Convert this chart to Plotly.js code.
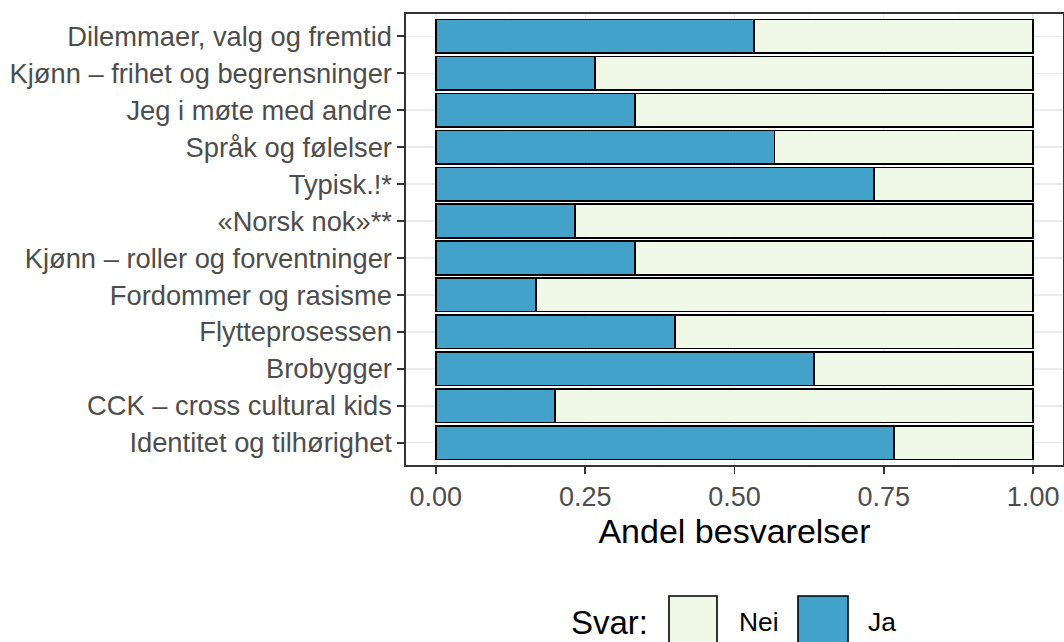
<!DOCTYPE html>
<html>
<head>
<meta charset="utf-8">
<script src="https://cdn.plot.ly/plotly-3.0.1.min.js"></script>
<style>html,body{margin:0;padding:0;background:#fff}#chart{width:1064px;height:642px}</style>
</head>
<body>
<div id="chart"></div>
<script>
// Categories, top to bottom
const categories = [
  "Dilemmaer, valg og fremtid",
  "Kjønn – frihet og begrensninger",
  "Jeg i møte med andre",
  "Språk og følelser",
  "Typisk.!*",
  "«Norsk nok»**",
  "Kjønn – roller og forventninger",
  "Fordommer og rasisme",
  "Flytteprosessen",
  "Brobygger",
  "CCK – cross cultural kids",
  "Identitet og tilhørighet"
];
// Share answering "Ja"
const jaValues = [0.533, 0.267, 0.333, 0.567, 0.733, 0.233, 0.333, 0.167, 0.400, 0.633, 0.200, 0.767];
// Share answering "Nei"
const neiValues = [0.467, 0.733, 0.667, 0.433, 0.267, 0.767, 0.667, 0.833, 0.600, 0.367, 0.800, 0.233];
const xTickVals = [0, 0.25, 0.5, 0.75, 1];
const xTickText = ["0.00", "0.25", "0.50", "0.75", "1.00"];
const legendTitle = "Svar:";
const seriesNames = {ja: "Ja", nei: "Nei"};

const colJa = "#43A2CA", colNei = "#F0F9E8";
const outline = {color: "#000000", width: 1.8};
const font = "Liberation Sans, Arial, Helvetica, sans-serif";

const traces = [
  {type: "bar", orientation: "h", name: seriesNames.ja, y: categories, x: jaValues,
   marker: {color: colJa, line: outline}, showlegend: false, hoverinfo: "x+y+name"},
  {type: "bar", orientation: "h", name: seriesNames.nei, y: categories, x: neiValues,
   marker: {color: colNei, line: outline}, showlegend: false, hoverinfo: "x+y+name"}
];

// legend drawn in paper space
const L = 406, R = 1063, T = 14, B = 465;
const px = v => (v - L) / (R - L);
const py = v => (B - v) / (B - T);

const layout = {
  width: 1064, height: 642,
  margin: {l: L, r: 1064 - R, t: T, b: 642 - B, pad: 0},
  paper_bgcolor: "#ffffff", plot_bgcolor: "#ffffff",
  barmode: "stack", bargap: 0.1,
  font: {family: font, color: "#4D4D4D", size: 27.3},
  showlegend: false,
  xaxis: {
    range: [-0.05, 1.05], tickvals: xTickVals, ticktext: xTickText,
    ticks: "outside", ticklen: 7, tickwidth: 1.5, tickcolor: "#333333",
    tickfont: {size: 27, color: "#4D4D4D", family: font},
    showgrid: true, gridcolor: "#EBEBEB", gridwidth: 1.3,
    minor: {dtick: 0.125, tick0: 0, showgrid: true, gridcolor: "#F4F4F4", gridwidth: 0.7, ticks: ""},
    zeroline: false, showline: true, linecolor: "#333333", linewidth: 1.6, mirror: true,
    title: {text: "Andel besvarelser", font: {size: 34, color: "#000000", family: font}, standoff: 8}
  },
  yaxis: {
    type: "category", categoryorder: "array", categoryarray: categories,
    range: [11.6, -0.6],
    ticks: "outside", ticklen: 7, tickwidth: 1.5, tickcolor: "#333333",
    tickfont: {size: 27.3, color: "#4D4D4D", family: font},
    showgrid: true, gridcolor: "#EBEBEB", gridwidth: 1.3,
    zeroline: false, showline: true, linecolor: "#333333", linewidth: 1.6, mirror: true
  },
  shapes: [
    {type: "rect", xref: "paper", yref: "paper", x0: px(669), x1: px(717), y0: py(596), y1: py(660),
     fillcolor: colNei, line: {color: "#000000", width: 1.6}},
    {type: "rect", xref: "paper", yref: "paper", x0: px(798), x1: px(848), y0: py(596), y1: py(660),
     fillcolor: colJa, line: {color: "#000000", width: 1.6}}
  ],
  annotations: [
    {xref: "paper", yref: "paper", x: px(650), y: py(622), xanchor: "right", yanchor: "middle",
     text: legendTitle, showarrow: false, font: {size: 33, color: "#000000", family: font}},
    {xref: "paper", yref: "paper", x: px(737), y: py(622), xanchor: "left", yanchor: "middle",
     text: seriesNames.nei, showarrow: false, font: {size: 26.4, color: "#000000", family: font}},
    {xref: "paper", yref: "paper", x: px(866), y: py(622), xanchor: "left", yanchor: "middle",
     text: seriesNames.ja, showarrow: false, font: {size: 26.4, color: "#000000", family: font}}
  ]
};

Plotly.newPlot("chart", traces, layout, {displayModeBar: false, staticPlot: true});
</script>
</body>
</html>
